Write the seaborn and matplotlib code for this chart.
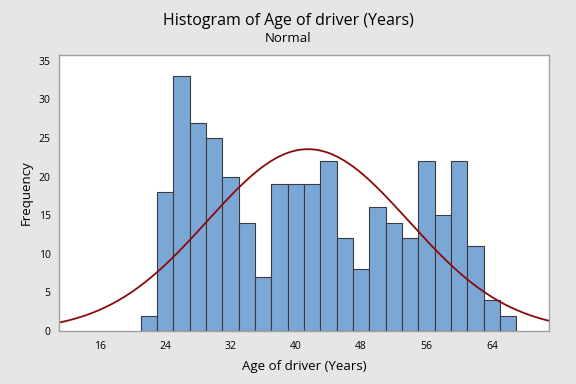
import numpy as np
import pandas as pd
import matplotlib.pyplot as plt
import seaborn as sns

# Histogram bins (2-year wide, centres) and their frequencies
bin_centers = [22, 24, 26, 28, 30, 32, 34, 36, 38, 40, 42, 44,
               46, 48, 50, 52, 54, 56, 58, 60, 62, 64, 66]
counts = [2, 18, 33, 27, 25, 20, 14, 7, 19, 19, 19, 22,
          12, 8, 16, 14, 12, 22, 15, 22, 11, 4, 2]
bin_width = 2
x_ticks = [16, 24, 32, 40, 48, 56, 64]
y_ticks = [0, 5, 10, 15, 20, 25, 30, 35]

sns.set_theme(style='white')
plt.rcParams['font.family'] = ['Open Sans', 'DejaVu Sans']

df = pd.DataFrame({'age': bin_centers, 'n': counts})

# normal fit from the binned data
n_tot = df['n'].sum()
mu = np.average(df['age'], weights=df['n'])
sd = np.sqrt(np.average((df['age'] - mu)**2, weights=df['n']))
xs = np.linspace(11, 71, 300)
fit = pd.DataFrame({'x': xs,
                    'y': n_tot * bin_width * np.exp(-0.5 * ((xs - mu) / sd)**2) / (sd * np.sqrt(2 * np.pi))})

fig = plt.figure(figsize=(5.76, 3.84), dpi=100, facecolor='#e6e6e6')
ax = fig.add_axes([59/576, 1 - 331/384, 490/576, 276/384])
ax.set_facecolor('white')

sns.histplot(data=df, x='age', weights='n', binwidth=bin_width, binrange=(21, 67),
             color='#7ba7d7', edgecolor='#3a3a3a', linewidth=0.8, alpha=1, ax=ax)
sns.lineplot(data=fit, x='x', y='y', color='#8b0a0a', linewidth=1.3, ax=ax)

ax.set_xlim(11, 71)
ax.set_ylim(0, 35.75)
ax.set_xticks(x_ticks)
ax.set_yticks(y_ticks)
ax.tick_params(axis='both', direction='out', length=4, width=0.8, color='#a0a0a0',
               labelsize=7.5, labelcolor='#000000', pad=3)
ax.tick_params(axis='y', pad=2)
for s in ax.spines.values():
    s.set_color('#a0a0a0')
    s.set_linewidth(1)
ax.set_xlabel('Age of driver (Years)', fontsize=9.5, color='#000000', labelpad=6)
ax.set_ylabel('Frequency', fontsize=9.5, color='#000000', labelpad=4)

fig.text(0.5, 1 - 21/384, 'Histogram of Age of driver (Years)', ha='center', va='center',
         fontsize=11.5, color='#000000')
fig.text(0.5, 1 - 39/384, 'Normal', ha='center', va='center', fontsize=9.5, color='#000000')

fig.savefig('out.png', dpi=100, facecolor=fig.get_facecolor())
